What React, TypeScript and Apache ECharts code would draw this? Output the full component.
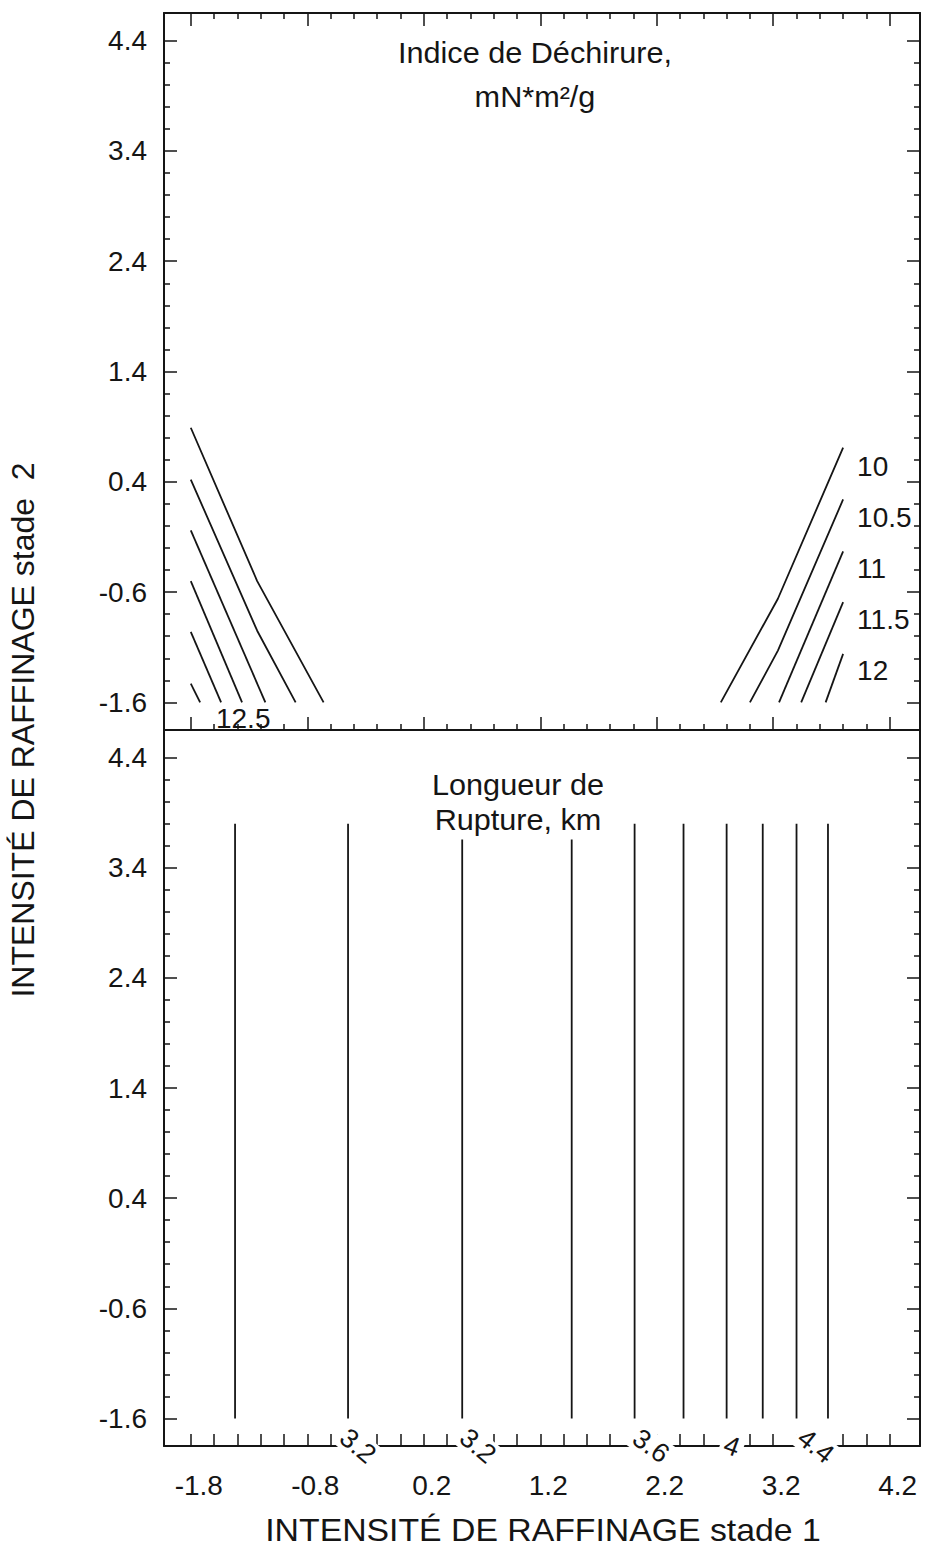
import React, { useEffect, useRef } from "react";
import * as echarts from "echarts";

const FONT = '"Liberation Sans", Arial, Helvetica, sans-serif';
const INK = "#151515";

// axis extents (stade 1 on x, stade 2 on y)
const X_RANGE = [-2.03, 4.46];
const Y_RANGE = [-1.85, 4.65];

// tick values
const xMajorTicks = [-1.8, -0.8, 0.2, 1.2, 2.2, 3.2, 4.2];
const xMinorTicks = [
  -1.6, -1.4, -1.2, -1.0, -0.6, -0.4, -0.2, 0.0, 0.4, 0.6, 0.8, 1.0,
  1.4, 1.6, 1.8, 2.0, 2.4, 2.6, 2.8, 3.0, 3.4, 3.6, 3.8, 4.0,
];
const yMajorTicks = [-1.6, -0.6, 0.4, 1.4, 2.4, 3.4, 4.4];
const yMinorTicks = [
  -1.4, -1.2, -1.0, -0.8, -0.4, -0.2, 0.0, 0.2, 0.6, 0.8, 1.0, 1.2,
  1.6, 1.8, 2.0, 2.2, 2.6, 2.8, 3.0, 3.2, 3.6, 3.8, 4.0, 4.2,
];

// Indice de Déchirure contours (top panel), left corner
const tearLeft: number[][][] = [
  [[-1.8, 0.89], [-1.23, -0.5], [-0.66, -1.6]],
  [[-1.8, 0.42], [-1.23, -0.95], [-0.9, -1.6]],
  [[-1.8, -0.04], [-1.16, -1.6]],
  [[-1.8, -0.5], [-1.36, -1.6]],
  [[-1.8, -0.96], [-1.54, -1.6]],
  [[-1.8, -1.43], [-1.72, -1.6]],
];
// right corner
const tearRight: number[][][] = [
  [[2.75, -1.6], [3.24, -0.66], [3.8, 0.71]],
  [[3.0, -1.6], [3.24, -1.13], [3.8, 0.24]],
  [[3.25, -1.6], [3.8, -0.23]],
  [[3.44, -1.6], [3.8, -0.69]],
  [[3.65, -1.6], [3.8, -1.16]],
];
const tearLabelText = ["10", "10.5", "11", "11.5", "12", "12.5"];
const tearLabelX = [3.92, 3.92, 3.92, 3.92, 3.92, -1.35];
const tearLabelY = [0.54, 0.08, -0.39, -0.85, -1.31, -1.75];

// Longueur de Rupture contours (bottom panel): vertical lines
const ruptureX = [-1.42, -0.45, 0.53, 1.47, 2.01, 2.43, 2.8, 3.11, 3.4, 3.67];
const ruptureY = [-1.6, 3.8];
const ruptureLabelText = ["3.2", "3.2", "3.6", "4", "4.4"];
const ruptureLabelX = [-0.365, 0.665, 2.15, 2.845, 3.566];
const ruptureLabelRot = [-40, -40, -36, -20, -38];

const GRIDS = [
  { left: 164, top: 13, width: 756, height: 717 },
  { left: 164, top: 730, width: 756, height: 716 },
];

const tickStyle = { color: INK, width: 1.5 };

function makeXAxes(
  gridIndex: number,
  labels: boolean,
  bottomMajor: number,
  bottomMinor: number,
  topTicks: boolean
) {
  const base = {
    type: "value" as const,
    gridIndex,
    min: X_RANGE[0],
    max: X_RANGE[1],
    splitLine: { show: false },
  };
  const line = { show: true, onZero: false, lineStyle: { color: INK, width: 2 } };
  const noLine = { show: false, onZero: false };
  return [
    {
      ...base,
      position: "bottom",
      axisLine: line,
      axisTick: { show: true, inside: true, length: bottomMajor, customValues: xMajorTicks, lineStyle: tickStyle },
      axisLabel: labels
        ? {
            show: true,
            customValues: xMajorTicks,
            formatter: (v: number) => v.toFixed(1),
            fontSize: 28,
            fontFamily: FONT,
            color: INK,
            margin: 25,
            padding: [0, 0, 0, 16],
          }
        : { show: false },
    },
    {
      ...base,
      position: "bottom",
      axisLine: noLine,
      axisTick: { show: true, inside: true, length: bottomMinor, customValues: xMinorTicks, lineStyle: tickStyle },
      axisLabel: { show: false },
    },
    {
      ...base,
      position: "top",
      axisLine: line,
      axisTick: { show: topTicks, inside: true, length: 13, customValues: xMajorTicks, lineStyle: tickStyle },
      axisLabel: { show: false },
    },
    {
      ...base,
      position: "top",
      axisLine: noLine,
      axisTick: { show: topTicks, inside: true, length: 6, customValues: xMinorTicks, lineStyle: tickStyle },
      axisLabel: { show: false },
    },
  ];
}

function makeYAxes(gridIndex: number) {
  const base = {
    type: "value" as const,
    gridIndex,
    min: Y_RANGE[0],
    max: Y_RANGE[1],
    splitLine: { show: false },
  };
  const line = { show: true, onZero: false, lineStyle: { color: INK, width: 2 } };
  const noLine = { show: false, onZero: false };
  return [
    {
      ...base,
      position: "left",
      axisLine: line,
      axisTick: { show: true, inside: true, length: 13, customValues: yMajorTicks, lineStyle: tickStyle },
      axisLabel: {
        show: true,
        customValues: yMajorTicks,
        formatter: (v: number) => v.toFixed(1),
        fontSize: 28,
        fontFamily: FONT,
        color: INK,
        margin: 17,
      },
    },
    {
      ...base,
      position: "left",
      axisLine: noLine,
      axisTick: { show: true, inside: true, length: 6, customValues: yMinorTicks, lineStyle: tickStyle },
      axisLabel: { show: false },
    },
    {
      ...base,
      position: "right",
      axisLine: line,
      axisTick: { show: true, inside: true, length: 13, customValues: yMajorTicks, lineStyle: tickStyle },
      axisLabel: { show: false },
    },
    {
      ...base,
      position: "right",
      axisLine: noLine,
      axisTick: { show: true, inside: true, length: 6, customValues: yMinorTicks, lineStyle: tickStyle },
      axisLabel: { show: false },
    },
  ];
}

function contourSeries(points: number[][], axisIndex: number) {
  return {
    type: "line",
    xAxisIndex: axisIndex,
    yAxisIndex: axisIndex,
    data: points,
    symbol: "none",
    showSymbol: false,
    silent: true,
    lineStyle: { color: INK, width: 1.8 },
    z: 3,
  };
}

const labelBase = {
  show: true,
  position: "inside",
  formatter: "{b}",
  fontSize: 28,
  fontFamily: FONT,
  color: INK,
  opacity: 1,
  textBorderWidth: 0,
  verticalAlign: "middle",
};

export default function App() {
  const ref = useRef<HTMLDivElement>(null);

  useEffect(() => {
    if (!ref.current) return;
    const chart = echarts.init(ref.current, undefined, { renderer: "svg" });

    const series: any[] = [];
    tearLeft.forEach((p) => series.push(contourSeries(p, 0)));
    tearRight.forEach((p) => series.push(contourSeries(p, 0)));
    ruptureX.forEach((x) =>
      series.push(contourSeries([[x, ruptureY[0]], [x, ruptureY[1]]], 4))
    );

    series.push({
      type: "scatter",
      xAxisIndex: 0,
      yAxisIndex: 0,
      symbolSize: 0,
      silent: true,
      clip: false,
      itemStyle: { color: INK, opacity: 1 },
      z: 5,
      label: { ...labelBase },
      data: tearLabelText.map((t, i) => ({
        name: t,
        value: [tearLabelX[i], tearLabelY[i]],
        label: { align: i === 5 ? "center" : "left" },
      })),
    });

    series.push({
      type: "scatter",
      xAxisIndex: 4,
      yAxisIndex: 4,
      symbolSize: 0,
      silent: true,
      clip: false,
      itemStyle: { color: INK, opacity: 1 },
      z: 5,
      label: {
        ...labelBase,
        fontSize: 27,
        align: "center",
        backgroundColor: "#ffffff",
        padding: [0, 4, 0, 4],
      },
      data: ruptureLabelText.map((t, i) => ({
        name: t,
        value: [ruptureLabelX[i], Y_RANGE[0]],
        label: { rotate: ruptureLabelRot[i] },
      })),
    });

    chart.setOption({
      animation: false,
      backgroundColor: "#ffffff",
      grid: GRIDS,
      xAxis: [
        ...makeXAxes(0, false, 13, 6, true),
        ...makeXAxes(1, true, 12, 12, false),
      ],
      yAxis: [...makeYAxes(0), ...makeYAxes(1)],
      series,
      graphic: [
        {
          type: "text",
          z: 100,
          x: 535,
          y: 75,
          scaleX: 1.056,
          style: {
            text: "Indice de Déchirure,\nmN*m²/g",
            font: `29px ${FONT}`,
            fill: INK,
            align: "center",
            verticalAlign: "middle",
            lineHeight: 44,
          },
        },
        {
          type: "text",
          z: 100,
          x: 518,
          y: 802,
          scaleX: 1.056,
          style: {
            text: "Longueur de\nRupture, km",
            font: `29px ${FONT}`,
            fill: INK,
            align: "center",
            verticalAlign: "middle",
            lineHeight: 35,
            backgroundColor: "#ffffff",
            padding: [2, 6, 3, 6],
          },
        },
        {
          type: "text",
          z: 100,
          x: 543,
          y: 1530,
          scaleX: 1.056,
          style: {
            text: "INTENSITÉ DE RAFFINAGE stade 1",
            font: `32px ${FONT}`,
            fill: INK,
            align: "center",
            verticalAlign: "middle",
          },
        },
        {
          type: "text",
          z: 100,
          x: 23,
          y: 730,
          rotation: Math.PI / 2,
          style: {
            text: "INTENSITÉ DE RAFFINAGE stade  2",
            font: `32px ${FONT}`,
            fill: INK,
            align: "center",
            verticalAlign: "middle",
          },
        },
      ],
    });

    return () => chart.dispose();
  }, []);

  return (
    <div
      ref={ref}
      style={{ position: "absolute", left: 0, top: 0, width: 925, height: 1551, background: "#fff" }}
    />
  );
}
